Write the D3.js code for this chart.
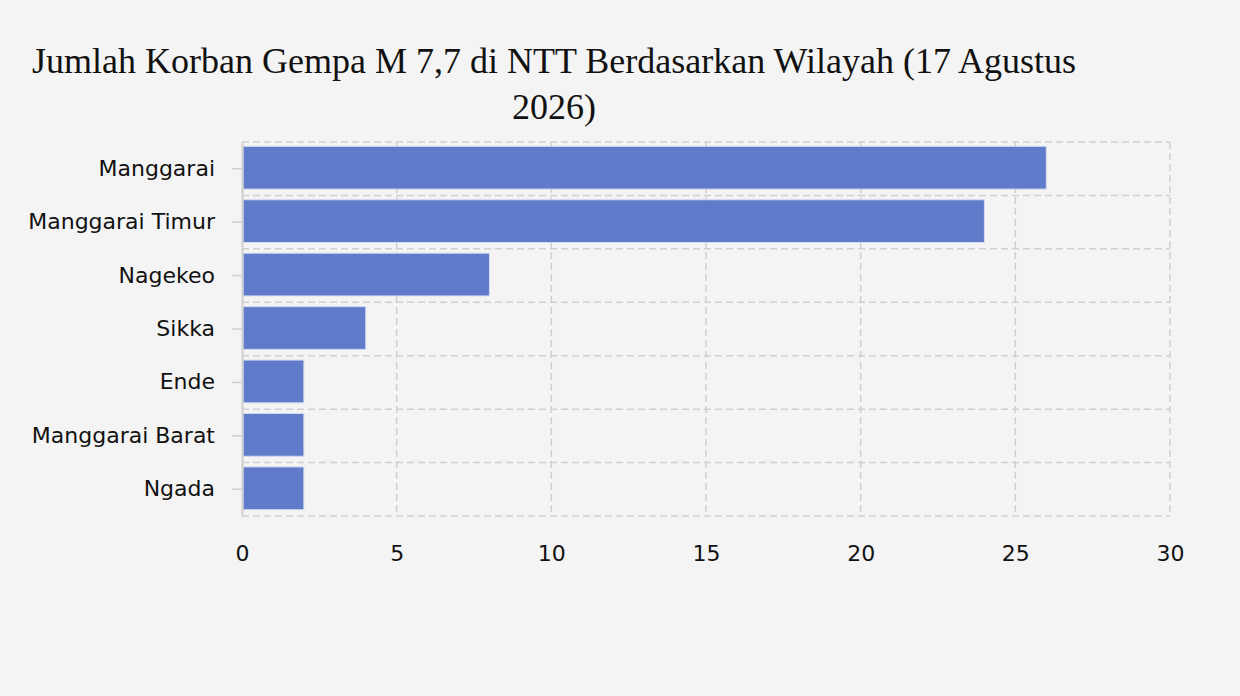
<!DOCTYPE html>
<html>
<head>
<meta charset="utf-8">
<script src="https://cdn.jsdelivr.net/npm/d3@7"></script>
<style>
  html, body { margin: 0; padding: 0; background: #f4f4f4; }
  svg { display: block; }
</style>
</head>
<body>
<script>
// data
var regions = ["Manggarai", "Manggarai Timur", "Nagekeo", "Sikka", "Ende", "Manggarai Barat", "Ngada"];
var korban = [26, 24, 8, 4, 2, 2, 2];
var xTicks = [0, 5, 10, 15, 20, 25, 30];
var titleLines = ["Jumlah Korban Gempa M 7,7 di NTT Berdasarkan Wilayah (17 Agustus", "2026)"];

var W = 1240, H = 696;
var margin = {top: 142, right: 70, bottom: 180, left: 242};

var svg = d3.select("body").append("svg")
  .attr("width", W).attr("height", H);

svg.append("rect").attr("width", W).attr("height", H).attr("fill", "#f4f4f4");

var x = d3.scaleLinear().domain([0, 30]).range([margin.left, W - margin.right]);
var y = d3.scaleBand().domain(regions).range([margin.top, H - margin.bottom])
  .paddingInner(0.2).paddingOuter(0.1);

var gridColor = "#d0d0d0";

// horizontal grid between the bands
var step = y.step();
var top0 = y(regions[0]) - step * 0.1;
var hLines = d3.range(regions.length + 1).map(function (i) {
  return Math.min(top0 + i * step, H - margin.bottom);
});
svg.append("g").selectAll("line")
  .data(hLines)
  .enter().append("line")
  .attr("x1", margin.left).attr("x2", W - margin.right)
  .attr("y1", function (d) { return d; }).attr("y2", function (d) { return d; })
  .attr("stroke", gridColor).attr("stroke-width", 1.5)
  .attr("stroke-dasharray", "7,4");

// vertical grid
svg.append("g").selectAll("line")
  .data(xTicks.slice(1))
  .enter().append("line")
  .attr("x1", function (d) { return x(d); }).attr("x2", function (d) { return x(d); })
  .attr("y1", margin.top).attr("y2", H - margin.bottom)
  .attr("stroke", gridColor).attr("stroke-width", 1.5)
  .attr("stroke-dasharray", "7,4");

// bars
svg.append("g").selectAll("rect")
  .data(regions)
  .enter().append("rect")
  .attr("x", x(0) + 1)
  .attr("y", function (d) { return y(d) - 1; })
  .attr("width", function (d, i) { return x(korban[i]) - x(0) - 1; })
  .attr("height", y.bandwidth())
  .attr("fill", "#5673c6")
  .attr("fill-opacity", 0.94)
  .attr("stroke", "#d4dbf0")
  .attr("stroke-width", 1);

// y axis
var yAxis = svg.append("g")
  .attr("transform", "translate(" + margin.left + ",0)")
  .call(d3.axisLeft(y).tickSize(10).tickSizeOuter(0).tickPadding(17));
yAxis.select(".domain").attr("stroke", gridColor).attr("stroke-width", 2);
yAxis.selectAll(".tick line").attr("stroke", gridColor).attr("stroke-width", 1.5);
yAxis.selectAll("text")
  .attr("font-family", "DejaVu Sans, Verdana, sans-serif")
  .attr("font-size", 22).attr("fill", "#111");

// x axis (labels only)
var xAxis = svg.append("g")
  .attr("transform", "translate(0," + (H - margin.bottom) + ")")
  .call(d3.axisBottom(x).tickValues(xTicks).tickSize(0).tickPadding(29));
xAxis.select(".domain").remove();
xAxis.selectAll("text")
  .attr("font-family", "DejaVu Sans, Verdana, sans-serif")
  .attr("font-size", 22).attr("fill", "#111");

// title
svg.append("g").selectAll("text")
  .data(titleLines)
  .enter().append("text")
  .attr("x", 554)
  .attr("y", function (d, i) { return 73 + i * 46; })
  .attr("text-anchor", "middle")
  .attr("font-family", "Liberation Serif, Times New Roman, serif")
  .attr("font-size", 36)
  .attr("fill", "#111")
  .text(function (d) { return d; });
</script>
</body>
</html>
